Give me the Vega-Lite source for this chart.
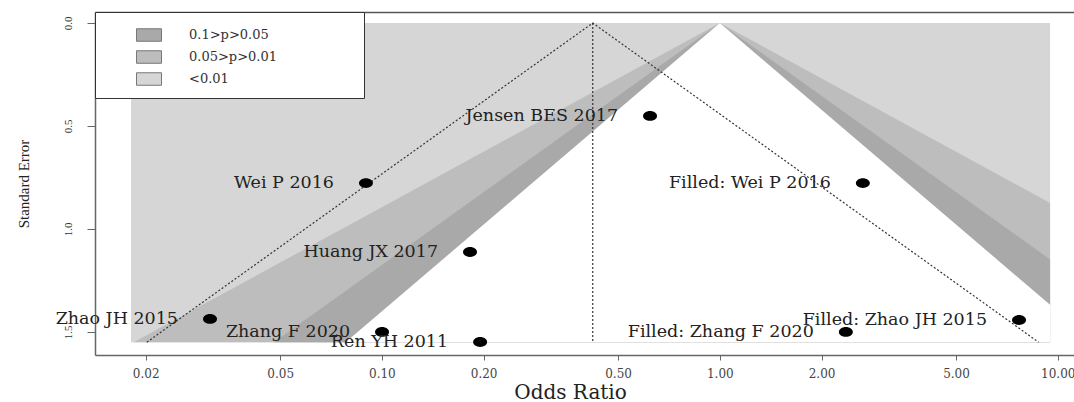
{
  "$schema": "https://vega.github.io/schema/vega-lite/v6.json",
  "autosize": {"type": "none"},
  "width": 979,
  "height": 343,
  "padding": {"left": 95, "top": 12, "right": 0, "bottom": 47},
  "background": "white",
  "config": {
    "view": {"stroke": null},
    "axisY": {
      "grid": false,
      "domainColor": "#666", "domainWidth": 1.5, "tickColor": "#666", "tickSize": 8,
      "labelAngle": 270, "labelFont": "Liberation Serif", "labelFontSize": 11, "labelColor": "#333", "labelPadding": 14,
      "titleFont": "Liberation Serif", "titleFontSize": 15, "titleFontWeight": "normal", "titleColor": "#222",
      "titleX": -72, "titleY": 171.5, "titleAngle": 270, "titleBaseline": "middle", "titleAlign": "center"
    },
    "axisX": {
      "grid": false,
      "domainColor": "#666", "domainWidth": 1.5, "tickColor": "#666", "tickSize": 5,
      "labelFont": "DejaVu Serif", "labelFontSize": 12, "labelColor": "#444", "labelPadding": 8,
      "labelFlush": false, "labelOverlap": false,
      "titleFont": "DejaVu Serif", "titleFontSize": 20, "titleFontWeight": "normal", "titleColor": "#222",
      "titleX": 475, "titleY": 43, "titleBaseline": "alphabetic", "titleAlign": "center"
    }
  },
  "datasets": {
    "bg": [
      {"se": 0, "lo": 0.0181, "hi": 9.49, "p": "<0.01"},
      {"se": 1.55, "lo": 0.0181, "hi": 9.49, "p": "<0.01"}
    ],
    "c99": [
      {"se": 0, "lo": 1, "hi": 1, "p": "0.05>p>0.01"},
      {"se": 0.8736, "lo": 0.1054, "hi": 9.49, "p": "0.05>p>0.01"},
      {"se": 1.55, "lo": 0.01844, "hi": 9.49, "p": "0.05>p>0.01"}
    ],
    "c95": [
      {"se": 0, "lo": 1, "hi": 1, "p": "0.1>p>0.05"},
      {"se": 1.1482, "lo": 0.1054, "hi": 9.49, "p": "0.1>p>0.05"},
      {"se": 1.55, "lo": 0.04793, "hi": 9.49, "p": "0.1>p>0.05"}
    ],
    "c90": [
      {"se": 0, "lo": 1, "hi": 1},
      {"se": 1.368, "lo": 0.1054, "hi": 9.49},
      {"se": 1.55, "lo": 0.07808, "hi": 9.49}
    ],
    "ci": [
      {"or": 0.02016, "se": 1.55},
      {"or": 0.4207, "se": 0},
      {"or": 8.776, "se": 1.55}
    ],
    "center": [
      {"or": 0.4207, "se": 0, "se_end": 1.55}
    ],
    "studies": [
      {"study": "Jensen BES 2017", "or": 0.6216, "se": 0.451},
      {"study": "Wei P 2016", "or": 0.0897, "se": 0.777},
      {"study": "Filled: Wei P 2016", "or": 2.65, "se": 0.777},
      {"study": "Huang JX 2017", "or": 0.1823, "se": 1.112},
      {"study": "Zhao JH 2015", "or": 0.031, "se": 1.437},
      {"study": "Filled: Zhao JH 2015", "or": 7.68, "se": 1.442},
      {"study": "Zhang F 2020", "or": 0.1001, "se": 1.5},
      {"study": "Filled: Zhang F 2020", "or": 2.36, "se": 1.5},
      {"study": "Ren YH 2011", "or": 0.1953, "se": 1.549}
    ]
  },
  "layer": [
    {
      "data": {"name": "bg"},
      "mark": {"type": "area", "orient": "horizontal", "opacity": 1},
      "encoding": {
        "y": {"field": "se", "type": "quantitative", "scale": {"domain": [-0.0534, 1.612], "reverse": true, "nice": false, "zero": false}},
        "x": {"field": "lo", "type": "quantitative", "scale": {"type": "log", "domain": [0.01416, 11.17], "nice": false},
              "axis": {"orient": "top", "labels": false, "ticks": false, "title": null, "domainColor": "#555", "domainWidth": 1.5}},
        "x2": {"field": "hi"},
        "color": {
          "field": "p", "type": "nominal",
          "scale": {"domain": ["0.1>p>0.05", "0.05>p>0.01", "<0.01"], "range": ["#a9a9a9", "#bdbdbd", "#d6d6d6"]},
          "legend": {
            "title": null, "orient": "none", "legendX": 0, "legendY": 0, "direction": "vertical",
            "fillColor": "white", "strokeColor": "#333", "padding": 10,
            "symbolType": "M-1,-0.5H1V0.5H-1Z", "symbolSize": 625, "symbolStrokeColor": "#777", "symbolStrokeWidth": 1,
            "symbolOpacity": 1, "symbolOffset": 31, "labelOffset": 27, "labelLimit": 400,
            "labelFont": "DejaVu Serif", "labelFontSize": 13, "labelColor": "#333", "rowPadding": -3,
            "labelExpr": "datum.label + '\u2800\u2800\u2800\u2800\u2800\u2800\u2800\u2800'"
          }
        }
      }
    },
    {
      "data": {"name": "c99"},
      "mark": {"type": "area", "orient": "horizontal", "opacity": 1},
      "encoding": {
        "y": {"field": "se", "type": "quantitative"},
        "x": {"field": "lo", "type": "quantitative", "axis": null},
        "x2": {"field": "hi"},
        "color": {"field": "p", "type": "nominal"}
      }
    },
    {
      "data": {"name": "c95"},
      "mark": {"type": "area", "orient": "horizontal", "opacity": 1},
      "encoding": {
        "y": {"field": "se", "type": "quantitative"},
        "x": {"field": "lo", "type": "quantitative", "axis": null},
        "x2": {"field": "hi"},
        "color": {"field": "p", "type": "nominal"}
      }
    },
    {
      "data": {"name": "c90"},
      "mark": {"type": "area", "orient": "horizontal", "opacity": 1, "color": "white"},
      "encoding": {
        "y": {"field": "se", "type": "quantitative"},
        "x": {"field": "lo", "type": "quantitative", "axis": null},
        "x2": {"field": "hi"}
      }
    },
    {
      "data": {"name": "ci"},
      "mark": {"type": "line", "strokeDash": [2, 2], "color": "#333", "strokeWidth": 1.2, "opacity": 1},
      "encoding": {
        "y": {"field": "se", "type": "quantitative"},
        "x": {"field": "or", "type": "quantitative", "axis": null}
      }
    },
    {
      "data": {"name": "center"},
      "mark": {"type": "rule", "strokeDash": [2, 2], "color": "#333", "strokeWidth": 1.2},
      "encoding": {
        "y": {"field": "se", "type": "quantitative"},
        "y2": {"field": "se_end"},
        "x": {"field": "or", "type": "quantitative", "axis": null}
      }
    },
    {
      "data": {"name": "studies"},
      "mark": {"type": "point", "filled": true, "shape": "M-1,0A1,0.7,0,1,0,1,0A1,0.7,0,1,0,-1,0Z", "size": 196, "color": "black", "opacity": 1},
      "encoding": {
        "y": {"field": "se", "type": "quantitative", "axis": {"title": "Standard Error", "values": [0, 0.5, 1, 1.5], "format": ".1f"}},
        "x": {"field": "or", "type": "quantitative", "axis": {"title": "Odds Ratio", "values": [0.02, 0.05, 0.1, 0.2, 0.5, 1, 2, 5, 10], "format": ".2f"}}
      }
    },
    {
      "data": {"name": "studies"},
      "mark": {"type": "text", "align": "right", "baseline": "middle", "dx": -32, "font": "DejaVu Serif", "fontSize": 17.5, "color": "#222"},
      "encoding": {
        "y": {"field": "se", "type": "quantitative"},
        "x": {"field": "or", "type": "quantitative", "axis": null},
        "text": {"field": "study", "type": "nominal"}
      }
    }
  ],
  "resolve": {"axis": {"x": "independent"}}
}
